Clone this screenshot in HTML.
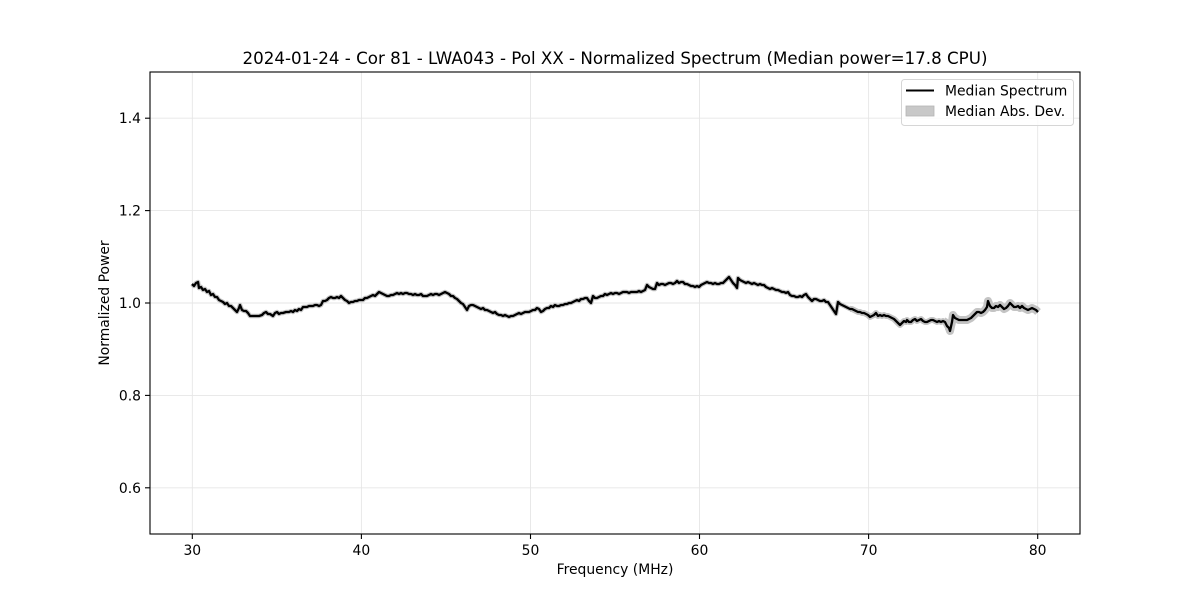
<!DOCTYPE html>
<html><head><meta charset="utf-8"><style>
html,body{margin:0;padding:0;background:#fff;}
svg{display:block;}
text{font-family:"DejaVu Sans","Liberation Sans",sans-serif;fill:#000;}
</style></head><body>
<svg width="1200" height="600" viewBox="0 0 1200 600" xmlns="http://www.w3.org/2000/svg">
<rect width="1200" height="600" fill="#fff"/>
<!-- grid -->
<g stroke="#e6e6e6" stroke-width="0.9">
<line x1="192.3" y1="72" x2="192.3" y2="534"/>
<line x1="361.4" y1="72" x2="361.4" y2="534"/>
<line x1="530.5" y1="72" x2="530.5" y2="534"/>
<line x1="699.5" y1="72" x2="699.5" y2="534"/>
<line x1="868.6" y1="72" x2="868.6" y2="534"/>
<line x1="1037.7" y1="72" x2="1037.7" y2="534"/>
<line x1="150" y1="118.2" x2="1080" y2="118.2"/>
<line x1="150" y1="210.6" x2="1080" y2="210.6"/>
<line x1="150" y1="303" x2="1080" y2="303"/>
<line x1="150" y1="395.4" x2="1080" y2="395.4"/>
<line x1="150" y1="487.8" x2="1080" y2="487.8"/>
</g>
<defs>
<polyline id="sp" fill="none" points="192,284 194,286 196,283 198,282 199,288 201,287 203,290 205,289 207,292 209,291 211,295 213,294 215,297 217,297 219,300 221,301 223,302 225,304 227,303 229,306 231,306 233,308 235,310 237,312 239,308 240,305 242,310 244,311 246,311 248,313 250,316 253,316 256,316 259,316 262,315 264,313 266,312 268,314 270,314 273,316 275,313 277,312 279,314 281,313 283,313 286,312 289,312 291,311 293,312 295,310 297,311 299,309 301,310 303,307 305,307 307,307 309,306 311,306 313,306 315,305 317,305 319,306 321,305 323,301 325,301 327,300 329,298 331,297 333,298 335,298 337,297 339,298 341,296 343,298 345,300 347,301 349,303 351,302 353,302 355,301 357,301 359,300 361,300 363,300 365,298 367,298 369,297 371,296 373,295 375,296 377,294 379,292 381,293 383,294 385,295 387,296 389,296 391,295 393,295 395,294 397,293 399,294 401,293 403,294 405,293 407,293 409,294 411,294 413,295 415,294 417,295 419,295 421,294 423,296 425,296 427,296 429,295 431,294 433,295 435,294 437,294 439,295 441,294 443,293 445,292 447,293 449,294 451,296 453,296 455,298 457,299 459,301 461,303 463,304 465,307 467,310 469,306 471,305 473,305 475,306 477,307 479,308 481,309 483,308 485,310 487,310 489,311 491,312 493,313 495,312 497,314 499,315 501,315 503,316 505,315 507,316 509,317 511,316 513,316 515,315 517,314 519,313 521,314 523,313 525,312 527,312 529,312 531,311 533,310 535,310 537,308 539,309 541,312 543,311 545,309 547,308 549,308 551,306 553,307 555,305 557,306 559,306 561,305 563,305 565,304 567,304 569,303 571,303 573,302 575,301 577,300 579,301 581,299 583,299 585,298 587,298 589,301 591,303 593,296 595,298 597,298 599,297 601,296 603,296 605,294 607,295 609,294 611,293 613,294 615,293 617,293 619,294 621,293 623,292 625,292 627,292 629,293 631,292 633,292 635,292 637,292 639,291 641,292 643,291 645,290 647,285 649,287 651,288 653,289 655,289 657,283 659,285 661,284 663,284 665,285 667,284 669,283 671,283 673,284 675,283 677,281 679,283 681,282 683,282 685,284 687,284 689,285 691,286 693,286 695,287 697,286 699,287 701,285 703,284 705,283 707,282 709,283 711,283 713,284 715,283 717,284 719,284 721,283 723,283 725,281 727,279 729,277 731,280 733,283 735,285 737,288 738,278 740,280 742,281 744,282 746,283 748,282 750,283 752,284 754,283 756,284 758,285 760,284 762,285 764,285 766,287 768,288 770,289 772,288 774,289 776,290 778,290 780,291 782,292 784,292 786,293 788,292 790,295 792,296 794,296 796,297 798,297 800,296 802,297 804,295 806,294 808,297 810,299 812,301 814,299 816,299 818,300 820,301 822,301 824,300 826,302 828,302 830,305 832,308 834,311 836,314 838,302 840,304 842,305 844,306 846,307 848,308 850,309 852,309 854,310 856,311 858,312 860,312 862,313 864,313 866,314 868,315 870,317 872,316 874,315 876,313 878,316 880,315 882,316 884,315 886,316 888,316 890,317 892,318 894,319 896,321 898,323 900,325 902,323 904,321 906,322 907,320 909,322 911,322 913,320 915,319 917,321 919,320 921,319 923,321 925,322 927,322 929,321 931,320 933,320 935,321 937,322 939,321 941,322 943,321 945,322 947,326 949,328 950,331 952,322 953,315 955,318 957,319 959,320 961,320 963,320 965,320 967,320 969,319 971,318 973,316 975,314 977,312 979,312 981,313 983,312 985,310 987,307 988,301 990,306 992,308 994,308 996,306 998,307 1000,305 1002,307 1004,309 1006,308 1008,306 1010,303 1012,305 1014,307 1016,307 1018,306 1020,308 1022,306 1024,308 1026,309 1028,310 1030,309 1032,308 1034,309 1036,310 1038,312"/>
<clipPath id="tail"><rect x="850" y="72" width="200" height="462"/></clipPath>
<clipPath id="tail2"><rect x="945" y="72" width="100" height="462"/></clipPath>
</defs>
<!-- MAD band -->
<use href="#sp" stroke="#c4c4c4" stroke-width="4.5" stroke-linejoin="round"/>
<use href="#sp" stroke="#c4c4c4" stroke-width="6" stroke-linejoin="round" clip-path="url(#tail)"/>
<use href="#sp" stroke="#c4c4c4" stroke-width="8" stroke-linejoin="round" clip-path="url(#tail2)"/>
<!-- median line -->
<use href="#sp" stroke="#000" stroke-width="2.3" stroke-linejoin="round"/>
<!-- axes frame -->
<rect x="150" y="72" width="930" height="462" fill="none" stroke="#000" stroke-width="1.1"/>
<!-- ticks -->
<g stroke="#000" stroke-width="1.1">
<line x1="192.3" y1="534" x2="192.3" y2="539"/>
<line x1="361.4" y1="534" x2="361.4" y2="539"/>
<line x1="530.5" y1="534" x2="530.5" y2="539"/>
<line x1="699.5" y1="534" x2="699.5" y2="539"/>
<line x1="868.6" y1="534" x2="868.6" y2="539"/>
<line x1="1037.7" y1="534" x2="1037.7" y2="539"/>
<line x1="145" y1="118.2" x2="150" y2="118.2"/>
<line x1="145" y1="210.6" x2="150" y2="210.6"/>
<line x1="145" y1="303" x2="150" y2="303"/>
<line x1="145" y1="395.4" x2="150" y2="395.4"/>
<line x1="145" y1="487.8" x2="150" y2="487.8"/>
</g>
<g font-size="13.9" text-anchor="middle">
<text x="192.3" y="555">30</text>
<text x="361.4" y="555">40</text>
<text x="530.5" y="555">50</text>
<text x="699.5" y="555">60</text>
<text x="868.6" y="555">70</text>
<text x="1037.7" y="555">80</text>
</g>
<g font-size="13.9" text-anchor="end">
<text x="141" y="123.2">1.4</text>
<text x="141" y="215.6">1.2</text>
<text x="141" y="308">1.0</text>
<text x="141" y="400.4">0.8</text>
<text x="141" y="492.8">0.6</text>
</g>
<text x="615" y="574" font-size="13.9" text-anchor="middle">Frequency (MHz)</text>
<text transform="translate(109,303) rotate(-90)" font-size="13.9" text-anchor="middle">Normalized Power</text>
<text x="615" y="64" font-size="16.7" text-anchor="middle">2024-01-24 - Cor 81 - LWA043 - Pol XX - Normalized Spectrum (Median power=17.8 CPU)</text>
<!-- legend -->
<rect x="901.5" y="79.5" width="172" height="46" rx="3" fill="#fff" fill-opacity="0.8" stroke="#d6d6d6" stroke-width="1"/>
<line x1="906" y1="90.5" x2="934" y2="90.5" stroke="#000" stroke-width="2"/>
<rect x="906" y="106" width="28" height="10" fill="#c8c8c8" stroke="#b5b5b5" stroke-width="0.8"/>
<text x="945" y="95.5" font-size="13.9">Median Spectrum</text>
<text x="945" y="116" font-size="13.9">Median Abs. Dev.</text>
</svg>
</body></html>
